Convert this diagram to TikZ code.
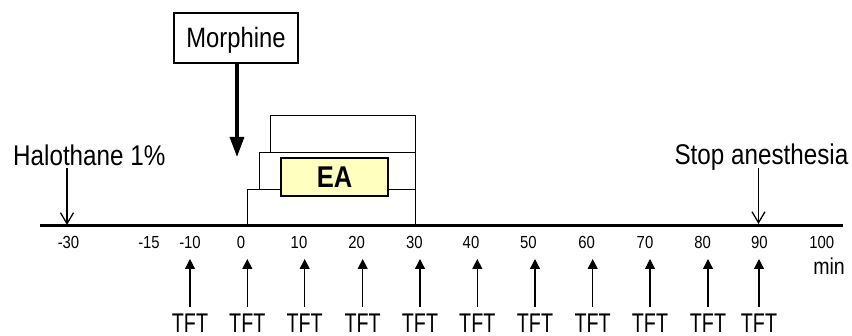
\documentclass[tikz,border=0pt]{standalone}
\usepackage{fontspec}
\setmainfont{Liberation Sans}[FakeStretch=0.85]
\usetikzlibrary{arrows.meta}
\definecolor{eayellow}{RGB}{255,255,192}
\begin{document}
\begin{tikzpicture}[x=1pt,y=-1pt,
  lbl/.style={inner sep=0pt, anchor=base},
  ticklbl/.style={lbl, font=\fontsize{17.5}{19}\selectfont},
  tftlbl/.style={lbl, font=\fontsize{27}{29}\selectfont},
  biglbl/.style={inner sep=0pt, font=\fontsize{28.5}{30}\selectfont},
  tftarrow/.style={line width=1.2pt, -{Triangle[length=10pt,width=10pt]}},
  openarrow/.style={line width=1.3pt, -{Straight Barb[length=11pt,width=13pt,line width=1.3pt]}},
  thickarrow/.style={line width=3.2pt, -{Triangle[length=20pt,width=14pt]}},
  phasebox/.style={line width=0.9pt},
]
\useasboundingbox (0,0) rectangle (852,336);

% axis
\coordinate (axL) at (40,226);
\coordinate (axR) at (842.5,226);
\draw[line width=3pt] (axL) -- (axR);

% phase boxes
\draw[phasebox] (270,115) rectangle (415,152);
\draw[phasebox] (259,152) rectangle (415,189);
\draw[phasebox] (247,189) rectangle (415,226);
\node[draw, line width=2pt, fill=eayellow, minimum width=107pt, minimum height=38pt,
      text height=22pt, text depth=0pt, inner sep=0pt,
      font=\fontsize{30}{32}\selectfont\bfseries] (ea) at (334.5,177) {EA};

% Morphine
\node[draw, line width=1.2pt, minimum width=124pt, minimum height=50pt,
      text height=20pt, text depth=0pt, inner sep=0pt,
      font=\fontsize{28}{30}\selectfont] (morph) at (236,38) {Morphine};
\coordinate (morphTip) at (237,157);
\draw[thickarrow] (morph.south -| morphTip) -- (morphTip);

% Halothane
\node[biglbl, anchor=base west] (halo) at (13,165.7) {Halothane 1\%};
\coordinate (haloTop) at (67,168);
\coordinate (haloTip) at (67,225);
\draw[openarrow] (haloTop) -- (haloTip);

% Stop anesthesia
\node[biglbl, anchor=base east] (stop) at (848.5,165) {Stop anesthesia};
\coordinate (stopTop) at (758.5,168);
\coordinate (stopTip) at (758.5,224);
\draw[openarrow] (stopTop) -- (stopTip);

% tick labels
\foreach \v/\x in {-30/68.5, -15/149, -10/190, 0/241, 10/299, 20/356.7, 30/414.3,
                   40/471, 50/528.3, 60/586.7, 70/645, 80/702.7, 90/759.3, 100/821.7}
  \node[ticklbl] (t\v) at (\x,248.5) {\v};

\node[lbl, font=\fontsize{23}{25}\selectfont] (min) at (829,275) {min};

% TFT arrows
\foreach \i/\x in {1/190, 2/247.3, 3/304.7, 4/362.7, 5/420, 6/477.3, 7/535,
                   8/592.7, 9/650, 10/708, 11/759} {
  \node[tftlbl] (tft\i) at (\x,333) {\scalebox{0.86}[1]{TFT}};
  \coordinate (tftTail\i) at (\x,307);
  \coordinate (tftTip\i) at (\x,259);
  \draw[tftarrow] (tftTail\i) -- (tftTip\i);
}
\end{tikzpicture}
\end{document}
